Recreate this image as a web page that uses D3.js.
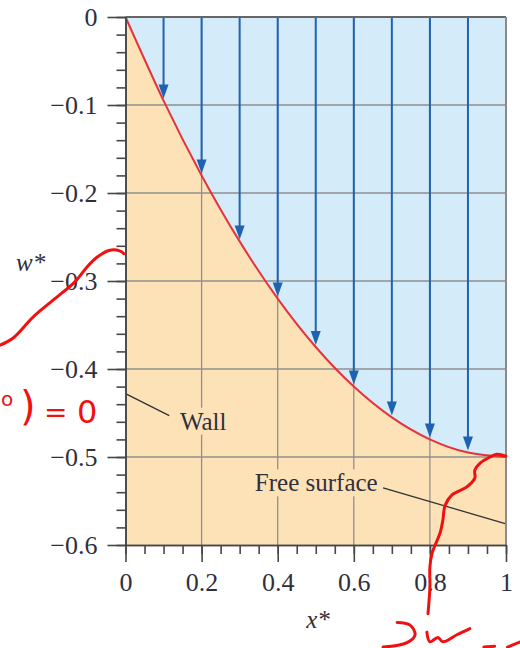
<!DOCTYPE html>
<html>
<head>
<meta charset="utf-8">
<script src="https://cdn.jsdelivr.net/npm/d3@7"></script>
<style>
  body { margin: 0; background: #fff; }
  svg { display: block; }
</style>
</head>
<body>
<div id="container"></div>
<script>
/* CONSTANTS AND GLOBALS */
const width = 520,
  height = 648,
  margin = { top: 17, bottom: 103, left: 125.5, right: 14 };

/* DATA */
// free surface profile
const surfaceX = [0, 0.1, 0.2, 0.3, 0.4, 0.5, 0.6, 0.7, 0.8, 0.9, 1];
const surfaceW = [0, -0.095, -0.18, -0.255, -0.32, -0.375, -0.42, -0.455, -0.48, -0.495, -0.5];
// arrows drop from the top to the surface
const arrowX = [0.1, 0.2, 0.3, 0.4, 0.5, 0.6, 0.7, 0.8, 0.9];
// ticks
const xTicks = [0, 0.2, 0.4, 0.6, 0.8, 1];
const xTickLabels = ["0", "0.2", "0.4", "0.6", "0.8", "1"];
const yTicks = [0, -0.1, -0.2, -0.3, -0.4, -0.5, -0.6];
const yTickLabels = ["0", "\u22120.1", "\u22120.2", "\u22120.3", "\u22120.4", "\u22120.5", "\u22120.6"];
const gridX = [0.2, 0.4, 0.6, 0.8];
const gridY = [-0.1, -0.2, -0.3, -0.4, -0.5];
// leader lines of the labels (in data units)
const wallLine = [[0, -0.428], [0.115, -0.453]];
const freeLine = [[0.677, -0.535], [1, -0.576]];
// red pen scribbles on the page (in data units)
const inkLeft = [[-0.330, -0.373], [-0.296, -0.365], [-0.243, -0.341], [-0.191, -0.322], [-0.133, -0.301],
  [-0.101, -0.284], [-0.075, -0.273], [-0.041, -0.265], [-0.014, -0.266], [-0.004, -0.269]];
const inkRight = [[1.0, -0.499], [0.976, -0.497], [0.958, -0.500], [0.932, -0.507], [0.918, -0.515],
  [0.918, -0.524], [0.897, -0.534], [0.858, -0.543], [0.840, -0.555], [0.834, -0.572], [0.827, -0.586],
  [0.806, -0.609], [0.800, -0.625], [0.800, -0.648], [0.795, -0.678]];
const inkD = [[0.714, -0.688], [0.748, -0.691], [0.761, -0.702], [0.740, -0.711], [0.677, -0.716]];
const inkW = [[0.792, -0.699], [0.800, -0.710], [0.821, -0.705], [0.834, -0.710], [0.871, -0.702], [0.905, -0.695]];
const inkEq1 = [[0.942, -0.716], [0.970, -0.715]];
const inkEq2 = [[1.004, -0.716], [1.038, -0.710]];

/* SCALES */
const xScale = d3.scaleLinear()
  .domain([0, 1])
  .range([margin.left, width - margin.right]);

const yScale = d3.scaleLinear()
  .domain([-0.6, 0])
  .range([height - margin.bottom, margin.top]);

const surface = surfaceX.map((x, i) => ({ x: x, w: surfaceW[i] }));
const wAt = x => surfaceW[surfaceX.findIndex(v => Math.abs(v - x) < 1e-9)];

/* SVG */
const svg = d3.select("#container")
  .append("svg")
  .attr("width", width)
  .attr("height", height);

const serif = "'Liberation Serif', 'DejaVu Serif', serif";
const textColor = "#30303c";

// fills
const water = d3.area()
  .x(d => xScale(d.x))
  .y0(yScale(0))
  .y1(d => yScale(d.w))
  .curve(d3.curveNatural);

const wall = d3.area()
  .x(d => xScale(d.x))
  .y0(yScale(-0.6))
  .y1(d => yScale(d.w))
  .curve(d3.curveNatural);

svg.append("path").attr("d", water(surface)).attr("fill", "#d4ecf9");
svg.append("path").attr("d", wall(surface)).attr("fill", "#fde2b8");

// grid
svg.selectAll(".gx")
  .data(gridX)
  .join("line")
  .attr("class", "gx")
  .attr("x1", d => xScale(d)).attr("x2", d => xScale(d))
  .attr("y1", yScale(0)).attr("y2", yScale(-0.6))
  .attr("stroke", "#8f8f8f").attr("stroke-width", 1.3);

svg.selectAll(".gy")
  .data(gridY)
  .join("line")
  .attr("class", "gy")
  .attr("x1", xScale(0)).attr("x2", xScale(1))
  .attr("y1", d => yScale(d)).attr("y2", d => yScale(d))
  .attr("stroke", "#8f8f8f").attr("stroke-width", 1.3);

// label boxes hide the grid behind them
function label(txt, x, y) {
  const t = svg.append("text")
    .attr("x", xScale(x)).attr("y", yScale(y))
    .attr("font-family", serif).attr("font-size", 25)
    .attr("fill", textColor)
    .text(txt);
  const b = t.node().getBBox();
  svg.insert("rect", () => t.node())
    .attr("x", b.x - 3).attr("y", b.y)
    .attr("width", b.width + 6).attr("height", b.height)
    .attr("fill", "#fde2b8");
}
label("Wall", 0.143, -0.469);
label("Free surface", 0.340, -0.539);

const seg = d3.line().x(d => xScale(d[0])).y(d => yScale(d[1]));
[wallLine, freeLine].forEach(l => {
  svg.append("path").attr("d", seg(l))
    .attr("fill", "none").attr("stroke", "#333").attr("stroke-width", 1.3);
});

// arrows
const arrowColor = "#1f63b0";
const headLen = 14, headHalf = 5;
svg.selectAll(".shaft")
  .data(arrowX)
  .join("line")
  .attr("class", "shaft")
  .attr("x1", d => xScale(d)).attr("x2", d => xScale(d))
  .attr("y1", yScale(0))
  .attr("y2", d => yScale(wAt(d)) - headLen + 2)
  .attr("stroke", arrowColor).attr("stroke-width", 2);

svg.selectAll(".head")
  .data(arrowX)
  .join("path")
  .attr("class", "head")
  .attr("d", d => {
    const cx = xScale(d), tip = yScale(wAt(d)) - 2;
    return `M${cx},${tip} L${cx - headHalf},${tip - headLen} L${cx + headHalf},${tip - headLen} Z`;
  })
  .attr("fill", arrowColor);

// free surface curve
const lineGen = d3.line()
  .x(d => xScale(d.x))
  .y(d => yScale(d.w))
  .curve(d3.curveNatural);

svg.append("path")
  .attr("d", lineGen(surface))
  .attr("fill", "none")
  .attr("stroke", "#e5333b")
  .attr("stroke-width", 2);

// frame top and right
svg.append("line")
  .attr("x1", xScale(0)).attr("x2", xScale(1))
  .attr("y1", yScale(0)).attr("y2", yScale(0))
  .attr("stroke", "#666").attr("stroke-width", 2);
svg.append("line")
  .attr("x1", xScale(1)).attr("x2", xScale(1))
  .attr("y1", yScale(0)).attr("y2", yScale(-0.6))
  .attr("stroke", "#8a8a8a").attr("stroke-width", 2);

/* AXES */
const minorY = d3.range(0, 31).map(i => -i * 0.02);
const minorX = d3.range(0, 21).map(i => i * 0.05);

const yMinor = svg.append("g")
  .attr("transform", `translate(${xScale(0)}, 0)`)
  .call(d3.axisLeft(yScale).tickValues(minorY).tickSize(9).tickSizeOuter(0).tickFormat(""));
const yMajor = svg.append("g")
  .attr("transform", `translate(${xScale(0)}, 0)`)
  .call(d3.axisLeft(yScale).tickValues(yTicks).tickSize(18).tickSizeOuter(0).tickPadding(10)
    .tickFormat((d, i) => yTickLabels[i]));

const xMinor = svg.append("g")
  .attr("transform", `translate(0, ${yScale(-0.6)})`)
  .call(d3.axisBottom(xScale).tickValues(minorX).tickSize(9).tickSizeOuter(0).tickFormat(""));
const xMajor = svg.append("g")
  .attr("transform", `translate(0, ${yScale(-0.6)})`)
  .call(d3.axisBottom(xScale).tickValues(xTicks).tickSize(17).tickSizeOuter(0).tickPadding(11)
    .tickFormat((d, i) => xTickLabels[i]));

[yMinor, yMajor, xMinor, xMajor].forEach(g => {
  g.selectAll("path, line").attr("stroke", "#474747").attr("stroke-width", 1.6);
  g.selectAll("text")
    .attr("font-family", serif)
    .attr("font-size", 26)
    .attr("fill", textColor);
});

svg.append("text")
  .attr("x", 16).attr("y", 271)
  .attr("font-family", serif).attr("font-style", "italic").attr("font-size", 25)
  .attr("fill", textColor)
  .text("w*");

svg.append("text")
  .attr("x", 318).attr("y", 628)
  .attr("text-anchor", "middle")
  .attr("font-family", serif).attr("font-style", "italic").attr("font-size", 25)
  .attr("fill", textColor)
  .text("x*");

/* RED PEN NOTES */
const ink = d3.line().x(d => xScale(d[0])).y(d => yScale(d[1])).curve(d3.curveCatmullRom);
[inkLeft, inkRight, inkD, inkW, inkEq1, inkEq2].forEach(p => {
  svg.append("path").attr("d", ink(p))
    .attr("fill", "none").attr("stroke", "#f01010")
    .attr("stroke-width", 3).attr("stroke-linecap", "round");
});

const pen = "'DejaVu Sans', sans-serif";
svg.append("text").attr("x", 1).attr("y", 406)
  .attr("font-family", pen).attr("font-size", 20).attr("fill", "#f01010").text("o");
svg.append("text").attr("x", 20).attr("y", 420)
  .attr("font-family", pen).attr("font-size", 40).attr("fill", "#f01010").text(")");
svg.append("text").attr("x", 44).attr("y", 422)
  .attr("font-family", pen).attr("font-size", 28).attr("fill", "#f01010").text("=");
svg.append("text").attr("x", 77).attr("y", 423)
  .attr("font-family", pen).attr("font-size", 32).attr("fill", "#f01010").text("0");
</script>
</body>
</html>
